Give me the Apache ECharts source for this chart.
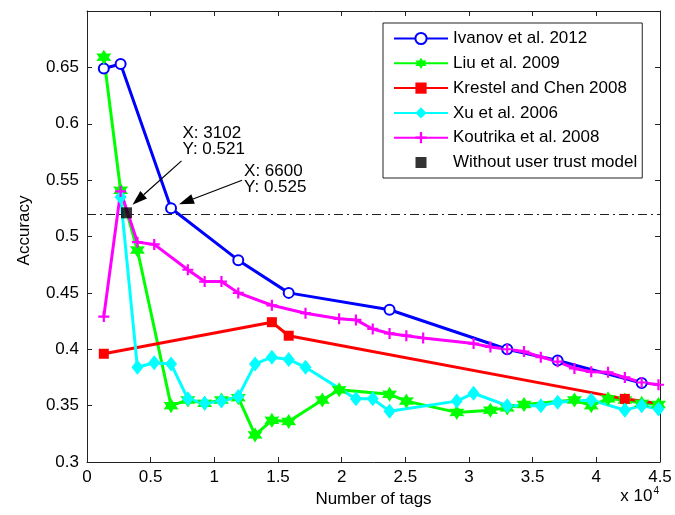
<!DOCTYPE html>
<html>
<head>
<meta charset="utf-8">
<script src="https://cdn.jsdelivr.net/npm/echarts@6/dist/echarts.min.js"></script>
<style>
  html, body { margin: 0; padding: 0; background: #fff; }
  #chart { width: 675px; height: 515px; }
</style>
</head>
<body>
<div id="chart"></div>
<script>
  // [number of tags, accuracy]
  const ivanov = [[1320, 0.649], [2640, 0.653], [6600, 0.525], [11880, 0.479], [15840, 0.450],
    [23760, 0.435], [33000, 0.400], [36960, 0.390], [43560, 0.370]];
  const liu = [[1320, 0.659], [2640, 0.541], [3960, 0.488], [6600, 0.350], [7920, 0.355],
    [9240, 0.352], [10560, 0.355], [11880, 0.357], [13200, 0.324], [14520, 0.337], [15840, 0.336],
    [18480, 0.355], [19800, 0.364], [23760, 0.360], [25080, 0.354], [29040, 0.344], [31680, 0.346],
    [33000, 0.348], [34320, 0.351], [38280, 0.355], [39600, 0.350], [40920, 0.356], [42240, 0.355],
    [43560, 0.352], [44880, 0.351]];
  const krestel = [[1320, 0.396], [14520, 0.424], [15840, 0.412], [42240, 0.356], [44880, 0.352]];
  const xu = [[2640, 0.535], [3960, 0.384], [5280, 0.388], [6600, 0.387], [7920, 0.356],
    [9240, 0.352], [10560, 0.354], [11880, 0.358], [13200, 0.387], [14520, 0.393], [15840, 0.391],
    [17160, 0.384], [21120, 0.356], [22440, 0.356], [23760, 0.345], [29040, 0.354], [30360, 0.361],
    [33000, 0.350], [35640, 0.350], [36960, 0.353], [39600, 0.355], [42240, 0.346], [43560, 0.350],
    [44880, 0.347]];
  const koutrika = [[1320, 0.429], [2640, 0.540], [3960, 0.495], [5280, 0.493], [7920, 0.4705],
    [9240, 0.460], [10560, 0.460], [11880, 0.450], [14520, 0.439], [17160, 0.432], [19800, 0.427],
    [21120, 0.426], [22440, 0.418], [23760, 0.414], [25080, 0.412], [26400, 0.410], [30360, 0.405],
    [31680, 0.402], [33000, 0.400], [34320, 0.398], [35640, 0.393], [36960, 0.389], [38280, 0.383],
    [39600, 0.380], [40920, 0.3795], [42240, 0.375], [43560, 0.3705], [44880, 0.3685]];
  const withoutTrust = [[3102, 0.521]];
  const trustLevel = 0.521;
  const dataTips = [[3102, 0.521], [6600, 0.525]];

  const FONT = "'Liberation Sans', Arial, sans-serif";

  function starPath(n, inner) {
    let d = '';
    for (let i = 0; i < 2 * n; i++) {
      const r = i % 2 ? inner : 1;
      const a = Math.PI * i / n - Math.PI / 2;
      d += (i ? 'L' : 'M') + (r * Math.cos(a)).toFixed(3) + ',' + (r * Math.sin(a)).toFixed(3);
    }
    return 'path://' + d + 'Z';
  }
  const hexagram = starPath(6, 0.56);
  const plus = 'path://M4,0H6V4H10V6H6V10H4V6H0V4H4Z';
  // small square inside a 14x14 box, so the legend keeps it square
  const legendSquare = 'path://M0,0M14,14M1.5,1.5H12.5V12.5H1.5Z';

  const lineSeries = (name, data, color, symbol, size) => ({
    name: name,
    type: 'line',
    data: data,
    symbol: symbol,
    symbolSize: size,
    showAllSymbol: true,
    lineStyle: { color: color, width: 3 },
    itemStyle: { color: color, borderColor: color, borderWidth: symbol === 'emptyCircle' ? 2.5 : 0 },
    emphasis: { disabled: true },
    z: 2
  });

  const valueAxis = (pos, show) => ({
    position: pos,
    type: 'value',
    axisLine: { show: true, onZero: false, lineStyle: { color: '#222', width: 1 } },
    axisTick: { show: true, inside: true, length: 5, lineStyle: { color: '#222' } },
    splitLine: { show: false },
    axisLabel: { show: show, color: '#000', fontSize: 17, fontFamily: FONT }
  });

  const chart = echarts.init(document.getElementById('chart'));

  const xMain = Object.assign(valueAxis('bottom', true), {
    min: 0, max: 45000, interval: 5000,
    name: 'Number of tags', nameLocation: 'middle', nameGap: 27,
    nameTextStyle: { color: '#000', fontSize: 17, fontFamily: FONT }
  });
  xMain.axisLabel.margin = 7;
  xMain.axisLabel.formatter = v => String(v / 10000);
  const xTop = Object.assign(valueAxis('top', false), { min: 0, max: 45000, interval: 5000 });

  const yMain = Object.assign(valueAxis('left', true), {
    min: 0.3, max: 0.7, interval: 0.05,
    name: 'Accuracy', nameLocation: 'middle', nameGap: 54,
    nameTextStyle: { color: '#000', fontSize: 17, fontFamily: FONT, padding: [0, 0, 0, 12] }
  });
  yMain.axisLabel.margin = 8;
  yMain.axisLabel.formatter = v => (v > 0.66 ? '' : String(+v.toFixed(2)));
  const yRight = Object.assign(valueAxis('right', false), { min: 0.3, max: 0.7, interval: 0.05 });

  chart.setOption({
    animation: false,
    grid: { left: 87, right: 15, top: 11, bottom: 53 },
    xAxis: [xMain, xTop],
    yAxis: [yMain, yRight],
    legend: {
      orient: 'vertical',
      left: 383,
      top: 23,
      padding: [7, 5, 7, 10],
      itemGap: 7.8,
      itemWidth: 54,
      itemHeight: 14,
      borderColor: '#222',
      borderWidth: 1,
      backgroundColor: '#fff',
      selectedMode: false,
      textStyle: { color: '#000', fontSize: 17, fontFamily: FONT },
      data: ['Ivanov et al. 2012', 'Liu et al. 2009', 'Krestel and Chen 2008', 'Xu et al. 2006',
        'Koutrika et al. 2008', { name: 'Without user trust model', icon: legendSquare }]
    },
    series: [
      lineSeries('Ivanov et al. 2012', ivanov, '#0000ff', 'emptyCircle', 10),
      lineSeries('Liu et al. 2009', liu, '#00ff00', hexagram, 15),
      lineSeries('Krestel and Chen 2008',
        krestel.map((p, i) => (i === krestel.length - 1 ? { value: p, symbol: 'none' } : p)),
        '#ff0000', 'rect', 10),
      lineSeries('Xu et al. 2006', xu, '#00ffff', 'diamond', [12, 15]),
      lineSeries('Koutrika et al. 2008', koutrika, '#ff00ff', plus, 11),
      {
        name: 'Without user trust model',
        type: 'scatter',
        data: withoutTrust,
        symbol: 'rect',
        symbolSize: 11,
        itemStyle: { color: '#000' },
        emphasis: { disabled: true },
        z: 3,
        markLine: {
          silent: true,
          symbol: 'none',
          label: { show: false },
          lineStyle: { color: '#222', width: 1, type: [9, 4, 2, 4] },
          data: [{ yAxis: trustLevel }]
        }
      }
    ]
  });

  // data tips with arrows
  function arrow(x1, y1, x2, y2) {
    const ang = Math.atan2(y2 - y1, x2 - x1);
    const L = 15, W = 5;
    const bx = x2 - L * Math.cos(ang), by = y2 - L * Math.sin(ang);
    const nx = -Math.sin(ang) * W, ny = Math.cos(ang) * W;
    return [
      { type: 'line', shape: { x1: x1, y1: y1, x2: bx, y2: by }, style: { stroke: '#000', lineWidth: 1.2 }, z: 10 },
      { type: 'polygon', shape: { points: [[x2, y2], [bx + nx, by + ny], [bx - nx, by - ny]] }, style: { fill: '#000' }, z: 10 }
    ];
  }

  const tipLayout = [
    { text: [56, -88], from: [55, -52], to: [6, -8] },
    { text: [73, -45], from: [71, -28], to: [8, -4] }
  ];
  const graphics = [];
  dataTips.forEach((d, i) => {
    const p = chart.convertToPixel({ xAxisIndex: 0, yAxisIndex: 0 }, d);
    const l = tipLayout[i];
    graphics.push({
      type: 'text',
      x: p[0] + l.text[0],
      y: p[1] + l.text[1],
      z: 10,
      style: {
        text: 'X: ' + d[0] + '\nY: ' + d[1],
        font: '17px ' + FONT,
        lineHeight: 16,
        fill: '#000'
      }
    });
    graphics.push(...arrow(p[0] + l.from[0], p[1] + l.from[1], p[0] + l.to[0], p[1] + l.to[1]));
  });
  graphics.push({
    type: 'text',
    right: 16,
    top: 486,
    style: {
      text: 'x 10{sup|4}',
      font: '17px ' + FONT,
      fill: '#000',
      rich: { sup: { fontSize: 10, fontFamily: FONT, verticalAlign: 'top', padding: [0, 0, 10, 1] } }
    }
  });
  chart.setOption({ graphic: graphics });
</script>
</body>
</html>
